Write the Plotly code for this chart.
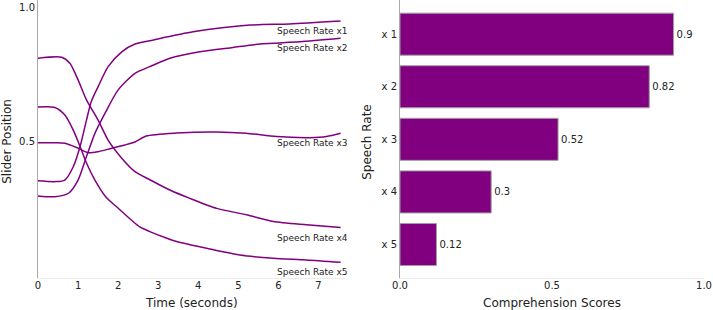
import plotly.graph_objects as go

# ---- data ----
t_x1 = [0, 0.42, 0.67, 0.88, 1.05, 1.21, 1.33, 1.5, 1.75, 2.09, 2.42, 2.88, 3.87, 5.29, 6.28, 7.55]
v_x1 = [0.356, 0.353, 0.359, 0.408, 0.483, 0.581, 0.650, 0.705, 0.779, 0.834, 0.863, 0.878, 0.908, 0.933, 0.937, 0.948]

t_x2 = [0, 0.42, 0.76, 1.0, 1.21, 1.42, 1.67, 2.0, 2.42, 2.79, 3.29, 4.04, 4.86, 5.54, 6.53, 7.55]
v_x2 = [0.300, 0.297, 0.310, 0.359, 0.446, 0.532, 0.606, 0.693, 0.754, 0.779, 0.810, 0.834, 0.850, 0.863, 0.871, 0.884]

t_x3 = [0, 0.42, 0.67, 1.0, 1.25, 1.5, 1.84, 2.17, 2.42, 2.7, 3.46, 4.45, 5.2, 5.95, 6.78, 7.2, 7.55]
v_x3 = [0.497, 0.497, 0.495, 0.477, 0.460, 0.464, 0.477, 0.489, 0.500, 0.522, 0.533, 0.537, 0.532, 0.520, 0.516, 0.520, 0.532]

t_x4 = [0, 0.59, 0.8, 1.0, 1.21, 1.5, 1.75, 2.09, 2.42, 2.79, 3.29, 3.79, 4.46, 5.2, 5.87, 6.7, 7.55]
v_x4 = [0.810, 0.814, 0.791, 0.730, 0.656, 0.581, 0.507, 0.440, 0.390, 0.360, 0.322, 0.291, 0.254, 0.230, 0.205, 0.193, 0.183]

t_x5 = [0, 0.42, 0.67, 0.88, 1.05, 1.21, 1.42, 1.71, 1.96, 2.54, 2.79, 3.2, 3.46, 4.21, 5.04, 5.87, 6.7, 7.55]
v_x5 = [0.630, 0.628, 0.600, 0.544, 0.483, 0.422, 0.359, 0.293, 0.260, 0.185, 0.168, 0.144, 0.131, 0.106, 0.081, 0.069, 0.063, 0.054]

series_names = ["Speech Rate x1", "Speech Rate x2", "Speech Rate x3", "Speech Rate x4", "Speech Rate x5"]
series_t = [t_x1, t_x2, t_x3, t_x4, t_x5]
series_v = [v_x1, v_x2, v_x3, v_x4, v_x5]

bar_categories = ["x 1", "x 2", "x 3", "x 4", "x 5"]
bar_scores = [0.9, 0.82, 0.52, 0.3, 0.12]

time_ticks = [0, 1, 2, 3, 4, 5, 6, 7]
slider_ticks = [0.5, 1.0]
score_ticks = [0.0, 0.5, 1.0]

PURPLE = "#800080"
TXT = "#222222"
FONT = "DejaVu Sans"

W, H = 713, 310

fig = go.Figure()

for name, t, v in zip(series_names, series_t, series_v):
    fig.add_trace(go.Scatter(
        x=t, y=v, mode="lines", name=name,
        line=dict(color=PURPLE, width=1.5, shape="spline", smoothing=0.7),
        xaxis="x", yaxis="y", showlegend=False, hoverinfo="skip",
    ))
    fig.add_annotation(
        x=t[-1], y=v[-1], xref="x", yref="y", text=name, showarrow=False,
        xanchor="right", yanchor="middle", xshift=9, yshift=-10,
        font=dict(family=FONT, size=9, color=TXT),
    )

fig.add_trace(go.Bar(
    x=bar_scores, y=bar_categories, orientation="h",
    marker=dict(color=PURPLE, line=dict(color="#a0a0a0", width=1)),
    text=[f"{s:g}" for s in bar_scores], textposition="outside",
    textfont=dict(family=FONT, size=10, color=TXT),
    cliponaxis=False, xaxis="x2", yaxis="y2", showlegend=False, hoverinfo="skip",
))

axis_common = dict(
    showgrid=False, zeroline=False, ticks="", showline=True, automargin=False,
    tickfont=dict(family=FONT, size=10, color=TXT),
)

fig.update_layout(
    width=W, height=H,
    margin=dict(l=0, r=0, t=0, b=32, autoexpand=False),
    plot_bgcolor="white", paper_bgcolor="white",
    bargap=0.2,
    xaxis=dict(domain=[38 / W, 345 / W], range=[0, 7.66], tickvals=time_ticks,
               linecolor="#ececec", linewidth=1, anchor="y", ticklabelstandoff=-2,
               **axis_common),
    yaxis=dict(domain=[0, 1], range=[-0.004, 1.026], tickvals=slider_ticks,
               ticktext=["0.5", "1.0"], linecolor="#a8a8a8", linewidth=1, anchor="x",
               **axis_common),
    xaxis2=dict(domain=[400 / W, 704 / W], range=[0, 1.0], tickvals=score_ticks,
                ticktext=["0.0", "0.5", "1.0"], linecolor="#ececec", linewidth=1,
                anchor="y2", ticklabelstandoff=-2, **axis_common),
    yaxis2=dict(domain=[0, 1], range=[4.637, -0.65], type="category",
                linecolor="#a8a8a8", linewidth=1, anchor="x2", **axis_common),
)

# axis titles
fig.add_annotation(text="Time (seconds)", xref="x domain", yref="paper", x=0.5, y=0,
                   yshift=-25, showarrow=False, yanchor="middle",
                   font=dict(family=FONT, size=12, color=TXT))
fig.add_annotation(text="Comprehension Scores", xref="x2 domain", yref="paper", x=0.5, y=0,
                   yshift=-25, showarrow=False, yanchor="middle",
                   font=dict(family=FONT, size=12, color=TXT))
fig.add_annotation(text="Slider Position", xref="paper", yref="y domain", x=7 / W, y=0.49,
                   textangle=-90, showarrow=False, xanchor="center",
                   font=dict(family=FONT, size=12, color=TXT))
fig.add_annotation(text="Speech Rate", xref="paper", yref="y2 domain", x=367 / W, y=0.49,
                   textangle=-90, showarrow=False, xanchor="center",
                   font=dict(family=FONT, size=12, color=TXT))

fig.write_html("out.html")
